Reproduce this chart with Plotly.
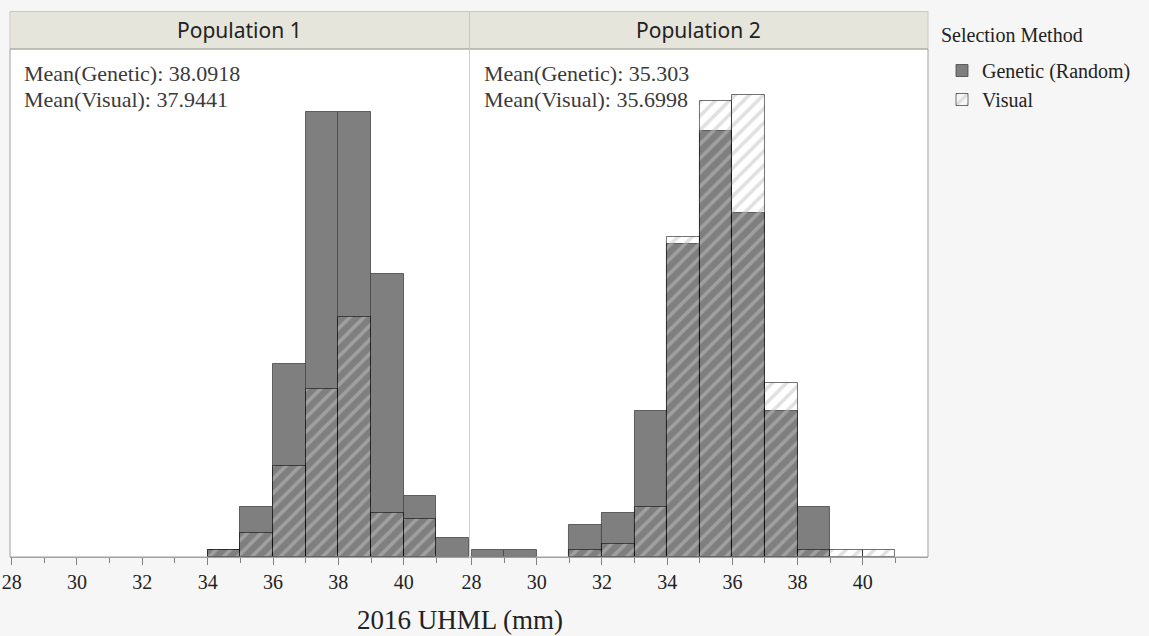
import plotly.graph_objects as go

# ---------------- data ----------------
bin_edges_p1 = [34, 35, 36, 37, 38, 39, 40, 41]
genetic_p1 = [1.0, 7.5, 28.8, 66.4, 66.4, 42.3, 9.1, 2.8]
visual_p1 = [1.0, 3.6, 13.6, 25.1, 35.8, 6.5, 5.6, 0.0]

bin_edges_p2 = [28, 29, 30, 31, 32, 33, 34, 35, 36, 37, 38, 39, 40]
genetic_p2 = [1.1, 1.1, 0.0, 4.8, 6.6, 21.8, 46.7, 63.6, 51.3, 21.8, 7.5, 0.0, 0.0]
visual_p2 = [0.0, 0.0, 0.0, 1.0, 1.9, 7.4, 47.8, 68.1, 68.9, 26.0, 1.0, 1.0, 1.0]

panel_titles = ["Population 1", "Population 2"]
mean_genetic = ["38.0918", "35.303"]
mean_visual = ["37.9441", "35.6998"]
series_names = ["Genetic (Random)", "Visual"]
tick_vals = [28, 30, 32, 34, 36, 38, 40]
minor_vals = [29, 31, 33, 35, 37, 39, 41]
x_title = "2016 UHML (mm)"
legend_title = "Selection Method"

# ---------------- styles ----------------
W, H = 1149, 636
L, R, T, B = 10, 928, 49, 556.7
GEN_FILL = "#7f7f7f"
GEN_LINE = "rgba(70,70,70,0.8)"
VIS_LINE = "rgba(0,0,0,0.55)"
SERIF = "Liberation Serif, Times New Roman, serif"
SANS = "Noto Sans, Open Sans, sans-serif"

fig = go.Figure()


def nonzero(edges, vals):
    xs, ys = [], []
    for e, v in zip(edges, vals):
        if v > 0:
            xs.append(e + 0.5)
            ys.append(v)
    return xs, ys


panels = [
    ("x", "y", bin_edges_p1, genetic_p1, visual_p1),
    ("x2", "y2", bin_edges_p2, genetic_p2, visual_p2),
]
for i, (xa, ya, edges, gen, vis) in enumerate(panels):
    xs, ys = nonzero(edges, gen)
    fig.add_trace(go.Bar(
        x=xs, y=ys, width=1.0, xaxis=xa, yaxis=ya,
        name=series_names[0], legendgroup="g", showlegend=(i == 0),
        marker=dict(color=GEN_FILL, line=dict(color=GEN_LINE, width=1)),
    ))
for i, (xa, ya, edges, gen, vis) in enumerate(panels):
    xs, ys = nonzero(edges, vis)
    fig.add_trace(go.Bar(
        x=xs, y=ys, width=1.0, xaxis=xa, yaxis=ya,
        name=series_names[1], legendgroup="v", showlegend=(i == 0),
        marker=dict(
            color="rgba(0,0,0,0)",
            line=dict(color=VIS_LINE, width=1),
            pattern=dict(shape="/", size=10, solidity=0.35,
                         fgcolor="rgb(193,193,193)", fgopacity=0.5,
                         bgcolor="rgba(0,0,0,0)"),
        ),
    ))

pw = R - L
ph = B - T
yr = [0, 75.8]

xcommon = dict(
    range=[27.95, 42.0], tickmode="array", tickvals=tick_vals,
    ticks="outside", ticklen=7, tickcolor="#808080", tickwidth=1,
    minor=dict(tickvals=minor_vals, ticks="outside", ticklen=5, tickcolor="#808080"),
    showline=True, linecolor="#a0a0a0", linewidth=1,
    showgrid=False, zeroline=False, fixedrange=True, automargin=False,
    tickfont=dict(family=SERIF, size=20, color="#222222"),
    ticklabelstandoff=0,
)
ycommon = dict(range=yr, showticklabels=False, ticks="", showgrid=False,
               zeroline=False, showline=False, fixedrange=True, automargin=False)

half = (469.5 - L) / pw
fig.update_layout(
    width=W, height=H,
    margin=dict(l=L, r=W - R, t=T, b=H - B, pad=0, autoexpand=False),
    paper_bgcolor="#f6f6f6", plot_bgcolor="white",
    barmode="overlay", bargap=0,
    xaxis=dict(domain=[0, half - 0.0005], anchor="y", **xcommon),
    xaxis2=dict(domain=[half + 0.0005, 1], anchor="y2", **xcommon),
    yaxis=dict(domain=[0, 1], anchor="x", **ycommon),
    yaxis2=dict(domain=[0, 1], anchor="x2", **ycommon),
    legend=dict(
        x=(942 - L) / pw, xanchor="left", y=(B - 51) / ph, yanchor="top",
        bgcolor="rgba(0,0,0,0)", borderwidth=0,
        font=dict(family=SERIF, size=20, color="#222222"),
        tracegroupgap=0, itemclick=False, itemdoubleclick=False,
    ),
    showlegend=True,
)

strip_top = 1 + (T - 11.5) / ph
shapes = []
annotations = []
doms = [(0, half), (half, 1)]
for i, (d0, d1) in enumerate(doms):
    shapes.append(dict(type="rect", xref="paper", yref="paper", x0=d0, x1=d1,
                       y0=1, y1=strip_top, fillcolor="#e6e5dc",
                       line=dict(color="#c9c8bf", width=1), layer="below"))
    annotations.append(dict(xref="paper", yref="paper", x=(d0 + d1) / 2,
                            y=(1 + strip_top) / 2, text=panel_titles[i],
                            showarrow=False, xanchor="center", yanchor="middle",
                            font=dict(family=SANS, size=21, color="#222222")))
    x_left = d0 + (12) / pw
    annotations.append(dict(xref="paper", yref="paper", x=x_left, y=(B - 73) / ph,
                            text="Mean(Genetic): " + mean_genetic[i], showarrow=False,
                            xanchor="left", yanchor="middle",
                            font=dict(family=SERIF, size=22, color="#3a3a3a")))
    annotations.append(dict(xref="paper", yref="paper", x=x_left, y=(B - 99) / ph,
                            text="Mean(Visual): " + mean_visual[i], showarrow=False,
                            xanchor="left", yanchor="middle",
                            font=dict(family=SERIF, size=22, color="#3a3a3a")))

# legend title
annotations.append(dict(xref="paper", yref="paper", x=(939 - L) / pw, y=(B - 35) / ph,
                        text=legend_title, showarrow=False, xanchor="left", yanchor="middle",
                        font=dict(family=SERIF, size=20, color="#222222")))

# panel borders
shapes.append(dict(type="rect", xref="paper", yref="paper", x0=0, x1=1, y0=0, y1=1,
                   line=dict(color="#a0a0a0", width=1), layer="above"))
shapes.append(dict(type="line", xref="paper", yref="paper", x0=half, x1=half, y0=0, y1=1,
                   line=dict(color="#d0d0d0", width=1), layer="above"))

annotations.append(dict(xref="paper", yref="paper", x=(460 - L) / pw, y=(B - 620) / ph,
                        text=x_title, showarrow=False, xanchor="center", yanchor="middle",
                        font=dict(family=SERIF, size=27, color="#222222")))

fig.update_layout(shapes=shapes, annotations=annotations)
fig.write_html("out.html")
